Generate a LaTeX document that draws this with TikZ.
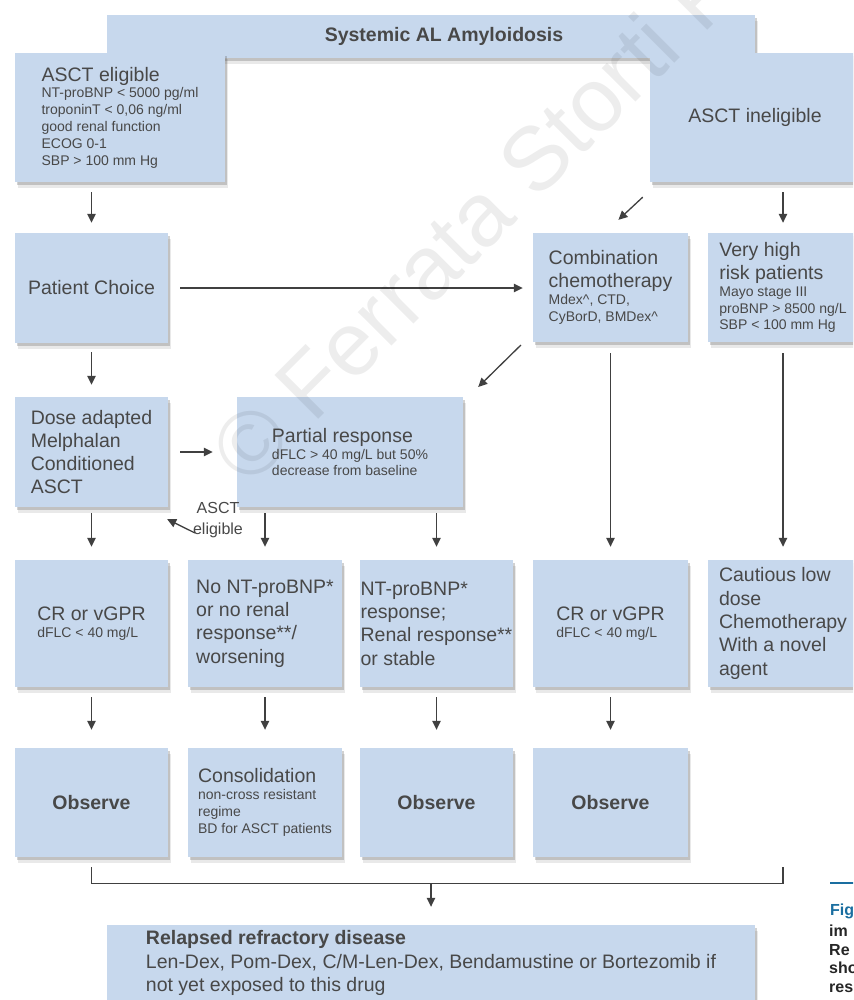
\documentclass[tikz,border=0pt]{standalone}
\usepackage{fontspec}
\setmainfont{Liberation Sans}
\usetikzlibrary{arrows.meta,shadows}

\definecolor{boxblue}{RGB}{199,216,237}
\definecolor{txtgray}{RGB}{72,72,72}
\definecolor{arrgray}{RGB}{64,64,64}
\definecolor{capteal}{RGB}{26,110,160}

\newcommand\bigf{\fontsize{19.5}{23.3}\selectfont}
\newcommand\smf{\fontsize{14}{16.8}\selectfont}
\newcommand\bline[1]{\bigf\hbox{#1}}
\newcommand\sline[1]{\smf\hbox{#1}}

\tikzset{
  box/.style={fill=boxblue, text=txtgray, inner sep=0pt, font=\bigf,
    drop shadow={shadow xshift=3pt, shadow yshift=-6pt, opacity=.12, fill=black!70},
    drop shadow={shadow xshift=1.5pt, shadow yshift=-3pt, opacity=.25, fill=black!70}},
  arr/.style={draw=arrgray, line width=1.3pt, -{Triangle[length=9pt,width=8.5pt]}},
  line/.style={draw=arrgray, line width=1.3pt}
}

\begin{document}
\begin{tikzpicture}[x=1pt, y=-1pt]
\useasboundingbox (0,0) rectangle (853,1000);
\fill[white] (0,0) rectangle (853,1000);
\clip (0,0) rectangle (853,1000);

% top
\node[box, minimum width=648pt, minimum height=43pt] (title) at (431,36.5) {\hspace*{26pt}\bfseries Systemic AL Amyloidosis};
\node[box, minimum width=210pt, minimum height=129pt] (elig) at (120,117.5) {\vbox{\bline{ASCT eligible}\sline{NT-proBNP < 5000 pg/ml}\sline{troponinT < 0,06 ng/ml}\sline{good renal function}\sline{ECOG 0-1}\sline{SBP > 100 mm Hg}}};
\node[box, minimum width=210pt, minimum height=129pt] (inelig) at (755,117.5) {ASCT ineligible};

% second row
\node[box, minimum width=153pt, minimum height=110pt] (choice) at (91.5,288) {Patient Choice};
\node[box, minimum width=155pt, minimum height=109pt] (combo) at (610.5,287.5) {\vbox{\bline{Combination}\bline{chemotherapy}\sline{Mdex\textasciicircum, CTD,}\sline{CyBorD, BMDex\textasciicircum}}};
\node[box, minimum width=150pt, minimum height=109pt] (vhigh) at (783,287.5) {\vbox{\bline{Very high}\bline{risk patients}\sline{Mayo stage III}\sline{proBNP > 8500 ng/L}\sline{SBP < 100 mm Hg}}};

% third row
\node[box, minimum width=153pt, minimum height=110pt] (dose) at (91.5,452) {\vbox{\bline{Dose adapted}\bline{Melphalan}\bline{Conditioned}\bline{ASCT}}};
\node[box, minimum width=226pt, minimum height=110pt] (partial) at (350,452) {\vbox{\bline{Partial response}\sline{dFLC > 40 mg/L but 50\%}\sline{decrease from baseline}}};

% responses
\node[box, minimum width=153pt, minimum height=127pt] (cr1) at (91.5,623.5) {\vbox{\bline{CR or vGPR}\sline{dFLC < 40 mg/L}}};
\node[box, minimum width=154pt, minimum height=127pt] (nonr) at (265,623.5) {\vbox{\bline{No NT-proBNP*}\bline{or no renal}\bline{response**/}\bline{worsening}}};
\node[box, minimum width=153pt, minimum height=127pt] (resp) at (436.5,623.5) {\vbox{\bline{NT-proBNP*}\bline{response;}\bline{Renal response**}\bline{or stable}}};
\node[box, minimum width=155pt, minimum height=127pt] (cr2) at (610.5,623.5) {\vbox{\bline{CR or vGPR}\sline{dFLC < 40 mg/L}}};
\node[box, minimum width=150pt, minimum height=127pt] (caut) at (783,623.5) {\vbox{\bline{Cautious low}\bline{dose}\bline{Chemotherapy}\bline{With a novel}\bline{agent}}};

% follow up
\node[box, minimum width=153pt, minimum height=109pt] (obs1) at (91.5,802.5) {\bfseries Observe};
\node[box, minimum width=154pt, minimum height=109pt] (consol) at (265,802.5) {\vbox{\bline{Consolidation}\sline{non-cross resistant}\sline{regime}\sline{BD for ASCT patients}}};
\node[box, minimum width=153pt, minimum height=109pt] (obs2) at (436.5,802.5) {\bfseries Observe};
\node[box, minimum width=155pt, minimum height=109pt] (obs3) at (610.5,802.5) {\bfseries Observe};

\node[box, minimum width=648pt, minimum height=76pt] (relapse) at (431,963) {\vbox{\bline{\bfseries Relapsed refractory disease}\bline{Len-Dex, Pom-Dex, C/M-Len-Dex, Bendamustine or Bortezomib if}\bline{not yet exposed to this drug}}};

% arrows
\draw[arr, shorten <=10pt, shorten >=10pt] (elig.south -| choice.north) -- (choice.north);
\draw[arr, shorten <=10pt, shorten >=10pt] (inelig.south -| vhigh.north) -- (vhigh.north);
\draw[arr, shorten <=22pt, shorten >=19pt] ([xshift=9pt]inelig.south west) -- ([xshift=-6pt]combo.north);
\draw[arr, shorten <=12pt, shorten >=10pt] (choice.east) -- (choice.east -| combo.west);
\draw[arr, shorten <=9pt, shorten >=12pt] (choice) -- (dose);
\draw[arr, shorten <=4pt, shorten >=14pt] ([xshift=-9pt]combo.south west) -- ([xshift=5pt]partial.north east);
\draw[arr, shorten <=12pt, shorten >=24pt] (dose) -- (partial);
\draw[arr, shorten <=6pt, shorten >=13pt] (dose) -- (cr1);
\draw[arr, shorten <=6pt, shorten >=13pt] (partial.south -| nonr.north) -- (nonr.north);
\draw[arr, shorten <=6pt, shorten >=13pt] (partial.south -| resp.north) -- (resp.north);
\draw[arr, shorten <=11pt, shorten >=13pt] (combo) -- (cr2);
\draw[arr, shorten <=11pt, shorten >=13pt] (vhigh) -- (caut);
\foreach \a/\b in {cr1/obs1, nonr/consol, resp/obs2, cr2/obs3}
  \draw[arr, shorten <=10pt, shorten >=18pt] (\a) -- (\b);

\node[font=\fontsize{16}{21}\selectfont, text=txtgray, align=center, inner sep=0pt] (asctl) at (218,520) {ASCT\\eligible};
\draw[arr] ([shift={(2pt,5pt)}]asctl.south west) -- ([shift={(-1pt,-12pt)}]dose.south east);

% bracket to relapse
\coordinate (brL) at ([yshift=-10pt]obs1.south);
\coordinate (brR) at ([yshift=-180pt]caut.south);
\draw[line] (brL) -- ++(0,16) -| (brR);
\draw[arr, shorten >=18pt] (relapse.north |- 0,883) -- (relapse.north);

% cut caption
\draw[capteal, line width=2.5pt] (830,883) -- (860,883);
\node[anchor=base west, font=\fontsize{16}{18.5}\selectfont\bfseries, text=capteal, inner sep=0pt] (figl) at (830,915) {Fig};
\node[anchor=north west, font=\fontsize{16}{18.5}\selectfont\bfseries, text=black!85, align=left, inner sep=0pt] (figtxt) at (829,925) {im\\Re\\sho\\res};

% watermark
\node[rotate=45, anchor=base west, font=\fontsize{90}{90}\selectfont, text=black, text opacity=.07, inner sep=0pt] (wmark) at (249,489) {© Ferrata Storti F};
\end{tikzpicture}
\end{document}
